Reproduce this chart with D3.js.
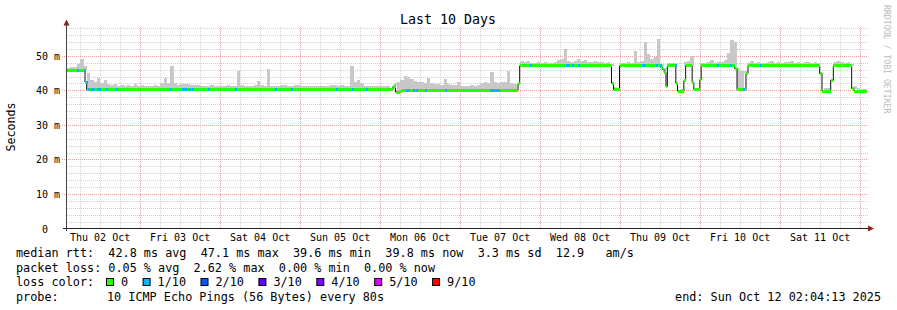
<!DOCTYPE html>
<html>
<head>
<meta charset="utf-8">
<script src="https://cdn.jsdelivr.net/npm/d3@7"></script>
<style>
body { margin: 0; background: #fff; }
svg { display: block; font-family: "DejaVu Sans Mono", monospace; }
text { white-space: pre; }
</style>
</head>
<body>
<svg id="chart" width="897" height="310"></svg>
<script>

var endTime = Date.UTC(2025, 9, 12, 2, 4, 13);
var startTime = endTime - 10 * 24 * 3600e3;

// median rtt as steps: hours after start, value in ms
var medianHours = [0, 5.4, 5.9, 97.8, 98.55, 99.75, 100.5, 135.3, 135.8, 163.35, 163.95, 165.75,
	178.05, 178.65, 179.15, 179.7, 180.1, 182.65, 183.15, 185.05, 185.6, 187.55, 188.05, 189.85,
	190.25, 200.3, 201.0, 203.7, 204.3, 225.8, 226.5, 229.1, 229.9, 235.4, 236.1];
var medianMs = [45.8, 42.4, 40.2, 41.2, 39.5, 39.7, 40.1, 41.9, 47.1, 42.1, 40.2, 47.1,
	46.7, 46.0, 45.2, 41.1, 47.3, 42.1, 39.8, 42.8, 47.1, 42.3, 40.2, 43.1,
	47.1, 46.3, 40.2, 44.9, 47.1, 44.8, 39.8, 42.9, 47.1, 40.5, 39.8];

// top of the ping smoke, one value per hour
var smokeTop = [
	46.6, 46.7, 46.8, 47.5, 49.0, 47.0, 45.0, 43.0, 42.5, 43.5, 42.2, 43.0, 41.8, 41.5, 41.8, 41.3,
	41.5, 41.3, 41.7, 41.3, 41.8, 41.2, 41.5, 41.2, 41.3, 41.2, 41.5, 41.2, 42.0, 43.6, 42.0, 47.0,
	42.2, 41.5, 41.8, 41.8, 41.8, 41.6, 41.5, 41.5, 41.2, 41.4, 41.3, 41.5, 41.3, 41.2, 41.3, 41.2,
	41.5, 41.3, 41.3, 45.6, 41.5, 41.3, 41.3, 41.2, 41.5, 42.7, 41.5, 41.3, 46.3, 41.2, 41.4, 41.3,
	41.6, 41.6, 41.3, 41.2, 41.6, 41.5, 41.2, 41.2, 41.3, 41.2, 41.2, 41.3, 41.2, 41.4, 41.3, 41.7,
	41.5, 41.3, 41.7, 41.4, 41.3, 47.2, 42.4, 42.9, 42.2, 41.3, 41.4, 41.4, 41.3, 41.2, 41.4, 41.3,
	41.3, 41.2, 42.0, 42.5, 42.9, 44.3, 44.0, 43.2, 42.6, 42.4, 42.4, 42.0, 43.5, 42.0, 41.9, 41.9,
	41.7, 43.2, 41.8, 41.5, 41.6, 42.3, 41.3, 41.2, 41.2, 41.5, 41.3, 41.5, 42.2, 42.4, 42.2, 45.3,
	42.5, 42.2, 42.3, 42.3, 45.6, 42.0, 41.9, 42.0, 48.5, 48.3, 48.4, 48.0, 48.0, 48.1, 47.9, 48.2,
	48.0, 48.0, 48.3, 48.7, 49.0, 52.1, 48.5, 48.3, 48.6, 49.2, 48.4, 48.9, 48.3, 48.2, 48.5, 48.2,
	48.2, 48.0, 48.2, 47.6, 41.0, 41.0, 48.0, 48.0, 48.1, 48.0, 51.3, 48.3, 48.5, 53.9, 50.6, 49.2,
	49.7, 54.8, 47.5, 46.5, 48.0, 48.0, 47.8, 40.5, 40.5, 48.2, 48.5, 50.1, 41.0, 41.0, 48.0, 48.0,
	48.2, 48.7, 48.0, 48.1, 48.3, 48.9, 50.8, 54.7, 54.0, 46.5, 45.5, 45.5, 48.0, 48.5, 48.0, 48.2,
	47.9, 48.0, 48.3, 48.4, 48.0, 48.2, 47.9, 48.2, 48.3, 48.4, 48.0, 48.2, 48.0, 48.1, 48.3, 48.0,
	48.1, 48.0, 45.0, 40.8, 40.8, 43.5, 48.2, 48.5, 48.3, 48.0, 48.2, 47.5, 41.2, 40.8, 40.5, 40.3];

// samples with 1/10 packets lost (hours after start)
var lossHours = [3.0, 5.1, 5.7, 6.3, 7.2, 7.8, 9.0, 9.6, 11.7, 14.7, 30.9, 34.5, 35.1, 35.7, 36.6,
	37.5, 42.3, 50.4, 62.4, 67.2, 80.7, 85.5, 89.7, 101.7, 102.3, 103.8, 104.7, 107.4, 113.4,
	126.9, 127.5, 128.1, 128.7, 129.3, 138.9, 149.7, 150.3, 151.5, 153.3, 172.5, 173.1, 176.7,
	177.9, 182.4, 195.0, 198.9, 202.8, 207.9];

var yTicks = [0, 10, 20, 30, 40, 50];
var lossLabels = ["0", "1/10", "2/10", "3/10", "4/10", "5/10", "9/10"];
var lossColors = ["#26ff00", "#00b8ff", "#0059ff", "#5e00ff", "#7e00ff", "#dd00ff", "#ff0000"];

var legendLines = [
	"median rtt:  42.8 ms avg  47.1 ms max  39.6 ms min  39.8 ms now  3.3 ms sd  12.9   am/s",
	"packet loss: 0.05 % avg  2.62 % max  0.00 % min  0.00 % now"
];
var probeText = "10 ICMP Echo Pings (56 Bytes) every 80s";
var endText = "end: Sun Oct 12 02:04:13 2025";


var svg = d3.select("#chart");

var x = d3.scaleUtc()
	.domain([new Date(startTime), new Date(endTime)])
	.range([67, 867]);

var y = d3.scaleLinear()
	.domain([0, 58.5])
	.range([228.5, 26.5]);

function atHour(h) { return new Date(startTime + h * 3600e3); }
function px(v) { return Math.round(v) + 0.5; }
function medianAt(h) { return medianMs[Math.max(0, d3.bisectRight(medianHours, h) - 1)]; }

svg.append("rect").attr("width", 897).attr("height", 310).attr("fill", "#fff");

// grid
var minorY = d3.range(2, 59, 2).filter(function(v) { return v % 10 !== 0; });
var majorY = yTicks.filter(function(v) { return v > 0; });
var sixHours = d3.utcHour.every(6).range(new Date(startTime), new Date(endTime))
	.filter(function(d) { return d.getUTCHours() !== 0; });
var days = d3.utcDay.range(new Date(startTime), new Date(endTime));

var grid = svg.append("g")
	.attr("stroke-width", 1)
	.attr("stroke-dasharray", "1,1");

grid.selectAll(".hmin").data(minorY).enter().append("line")
	.attr("x1", 67).attr("x2", 868)
	.attr("y1", function(d) { return px(y(d)); })
	.attr("y2", function(d) { return px(y(d)); })
	.attr("stroke", "#d0d0d0");

grid.selectAll(".vmin").data(sixHours).enter().append("line")
	.attr("x1", function(d) { return px(x(d)); })
	.attr("x2", function(d) { return px(x(d)); })
	.attr("y1", 228).attr("y2", 26)
	.attr("stroke", "#d0d0d0");

grid.selectAll(".hmaj").data(majorY).enter().append("line")
	.attr("x1", 62).attr("x2", 868)
	.attr("y1", function(d) { return px(y(d)); })
	.attr("y2", function(d) { return px(y(d)); })
	.attr("stroke", "#e6a0a0");

grid.selectAll(".vmaj").data(days).enter().append("line")
	.attr("x1", function(d) { return px(x(d)); })
	.attr("x2", function(d) { return px(x(d)); })
	.attr("y1", 228).attr("y2", 26)
	.attr("stroke", "#e6a0a0");

// smoke
var smoke = svg.append("g").attr("shape-rendering", "crispEdges");
smokeTop.forEach(function(top, i) {
	var vals = [medianAt(i)];
	medianHours.forEach(function(h, j) { if (h > i && h < i + 1) vals.push(medianMs[j]); });
	var bottom = d3.max(vals);
	if (top <= bottom) return;
	smoke.append("rect")
		.attr("x", x(atHour(i)))
		.attr("width", x(atHour(i + 1)) - x(atHour(i)))
		.attr("y", y(top))
		.attr("height", y(bottom) - y(top))
		.attr("fill", "#c8c8c8");
});

// median line
var steps = medianHours.map(function(h, j) { return [h, medianMs[j]]; });
steps.push([240, medianMs[medianMs.length - 1]]);

svg.append("path")
	.datum(steps)
	.attr("fill", "none")
	.attr("stroke", "#111")
	.attr("stroke-width", 1)
	.attr("d", d3.line()
		.x(function(d) { return x(atHour(d[0])); })
		.y(function(d) { return y(d[1]); })
		.curve(d3.curveStepAfter));

// loss coloured band on the median
var band = svg.append("g").attr("shape-rendering", "crispEdges");
band.selectAll("rect").data(steps.slice(0, -1)).enter().append("rect")
	.attr("x", function(d) { return x(atHour(d[0])); })
	.attr("width", function(d, j) { return x(atHour(steps[j + 1][0])) - x(atHour(d[0])); })
	.attr("y", function(d) { return y(d[1]) - 1.5; })
	.attr("height", 3)
	.attr("fill", lossColors[0]);

var lossSample = 0.6;
svg.append("g").attr("shape-rendering", "crispEdges")
	.selectAll("rect").data(lossHours).enter().append("rect")
	.attr("x", function(h) { return x(atHour(h)); })
	.attr("width", function(h) { return x(atHour(h + lossSample)) - x(atHour(h)); })
	.attr("y", function(h) { return y(medianAt(h)) - 1.5; })
	.attr("height", 3)
	.attr("fill", lossColors[1]);

// axes
svg.append("line")
	.attr("x1", 63).attr("x2", 869).attr("y1", 228.5).attr("y2", 228.5)
	.attr("stroke", "#222");
svg.append("line")
	.attr("x1", 66.5).attr("x2", 66.5).attr("y1", 231).attr("y2", 24)
	.attr("stroke", "#444");
svg.append("path")
	.attr("d", "M868,225.5L874,228.5L868,231.5Z")
	.attr("fill", "#8e2020");
svg.append("path")
	.attr("d", "M63.5,25.5L66.5,19.5L69.5,25.5Z")
	.attr("fill", "#8e2020");

svg.selectAll(".ylab").data(yTicks).enter().append("text")
	.attr("x", 60)
	.attr("y", function(d) { return px(y(d)) + 3.5; })
	.attr("text-anchor", "end")
	.attr("font-size", "10px")
	.attr("fill", "#000")
	.text(function(d) { return d === 0 ? "0  " : d + " m"; });

var noons = d3.utcHour.range(new Date(startTime), new Date(endTime))
	.filter(function(d) { return d.getUTCHours() === 12; });

svg.selectAll(".xlab").data(noons).enter().append("text")
	.attr("x", function(d) { return x(d); })
	.attr("y", 241)
	.attr("text-anchor", "middle")
	.attr("font-size", "10px")
	.attr("fill", "#000")
	.text(d3.utcFormat("%a %d %b"));

// titles
svg.append("text")
	.attr("x", 448).attr("y", 24)
	.attr("text-anchor", "middle")
	.attr("font-size", "13.3px")
	.text("Last 10 Days");

svg.append("text")
	.attr("transform", "translate(15,127) rotate(-90)")
	.attr("text-anchor", "middle")
	.attr("font-size", "11.6px")
	.text("Seconds");

svg.append("text")
	.attr("transform", "translate(884,5) rotate(90)")
	.attr("font-size", "8.2px")
	.attr("fill", "#bbbbbb")
	.text("RRDTOOL / TOBI OETIKER");

// legend
var legend = svg.append("g").attr("font-size", "11.8px").attr("fill", "#000");
var charW = 7.1;

legend.selectAll(".line").data(legendLines).enter().append("text")
	.attr("x", 16)
	.attr("y", function(d, i) { return 257 + i * 14.5; })
	.text(function(d) { return d; });

legend.append("text").attr("x", 16).attr("y", 286).text("loss color:");

var bx = 106;
lossLabels.forEach(function(lab, i) {
	legend.append("rect")
		.attr("x", bx + 0.5).attr("y", 278.5)
		.attr("width", 7).attr("height", 7)
		.attr("fill", lossColors[i])
		.attr("stroke", "#000")
		.attr("stroke-width", 1);
	legend.append("text").attr("x", bx + 15).attr("y", 286).text(lab);
	bx += 15 + lab.length * charW + 14.5;
});

legend.append("text").attr("x", 16).attr("y", 300.5).text("probe:");
legend.append("text").attr("x", 107).attr("y", 300.5).text(probeText);
legend.append("text").attr("x", 881).attr("y", 300.5).attr("text-anchor", "end").text(endText);

</script>
</body>
</html>
